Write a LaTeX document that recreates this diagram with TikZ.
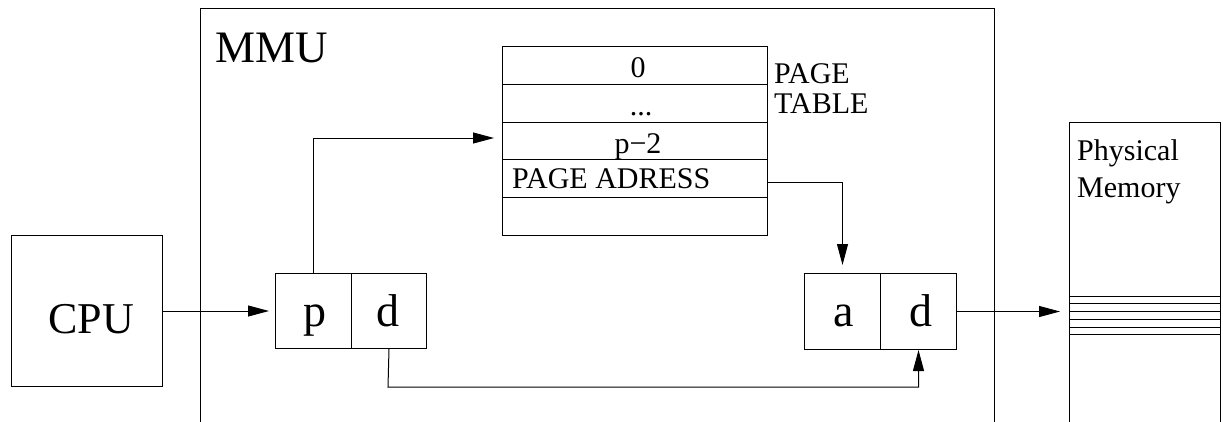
\documentclass[tikz,border=0pt]{standalone}
\usepackage{fontspec}
\setmainfont{Liberation Serif}
\usetikzlibrary{arrows.meta}
\begin{document}
\begin{tikzpicture}[x=1pt,y=-1pt,
  cell/.style={draw, line width=1pt, rectangle, inner sep=0pt, anchor=north west},
  txt/.style={inner sep=0pt, anchor=base},
  txtw/.style={inner sep=0pt, anchor=base west},
  big/.style={font=\fontsize{45}{45}\selectfont},
  small/.style={font=\fontsize{30}{34}\selectfont},
  link/.style={line width=1pt},
  arrow/.style={line width=1pt, -{Triangle[length=21pt,width=11pt]}}
]
\useasboundingbox (0,0) rectangle (1223,421);
\clip (0,0) rectangle (1223,421);

% MMU enclosure (open towards the bottom)
\node[cell, minimum width=794pt, minimum height=460pt] (mmu) at (200,8) {};
\node[txtw, big] at (215,62) {MMU};

% CPU
\node[cell, minimum width=151pt, minimum height=151pt] (cpu) at (11,235) {};
\node[txt, big, font=\fontsize{44}{44}\selectfont] at (91,333) {CPU};

% virtual address: page number and offset
\node[cell, minimum width=76pt, minimum height=75pt] (vp) at (275,273) {};
\node[cell, minimum width=75pt, minimum height=75pt] (vd) at (351,273) {};
\node[txt, font=\fontsize{46}{46}\selectfont] at (315,326) {p};
\node[txt, font=\fontsize{46}{46}\selectfont] at (388,326) {d};

% physical address: frame address and offset
\node[cell, minimum width=76pt, minimum height=76pt] (pa) at (804,273) {};
\node[cell, minimum width=76pt, minimum height=76pt] (pd) at (880,273) {};
\node[txt, font=\fontsize{46}{46}\selectfont] at (844,326) {a};
\node[txt, font=\fontsize{46}{46}\selectfont] at (921,326) {d};

% page table
\foreach \i/\y in {1/46,2/83.8,3/121.6,4/159.4,5/197.2}
  \node[cell, minimum width=265pt, minimum height=37.8pt] (row\i) at (502,\y) {};
\node[txt, small] at (638,77) {0};
\node[txt, small] at (641,115) {...};
\node[txt, small] at (638,153) {p−2};
\node[txtw, small] at (512,188) {PAGE ADRESS};
\node[txtw, small] at (774,83) {PAGE};
\node[txtw, small] at (774,113) {TABLE};

% physical memory (open towards the bottom)
\node[cell, minimum width=151pt, minimum height=340pt] (mem) at (1069,122) {};
\node[txtw, small] at (1077,160) {Physical};
\node[txtw, small] at (1077,197) {Memory};
\foreach \y in {296,303,311,319,327,334}
  \draw[link] (1069,\y) -- (1220,\y);

% connectors
\draw[arrow, shorten >=6pt] (cpu.east) -- (vp.west);
\draw[arrow, shorten >=8pt] (vp.north) |- ([yshift=3pt]row3.west);
\draw[arrow, shorten >=8pt] ([yshift=-4pt]row4.east) -| (pa.north);
\coordinate (low) at (388,387);
\draw[arrow] (vd.south) -- (low) -| (pd.south);
\draw[arrow, shorten >=9pt] (pd.east) -- (mem.west |- pd.east);
\end{tikzpicture}
\end{document}
